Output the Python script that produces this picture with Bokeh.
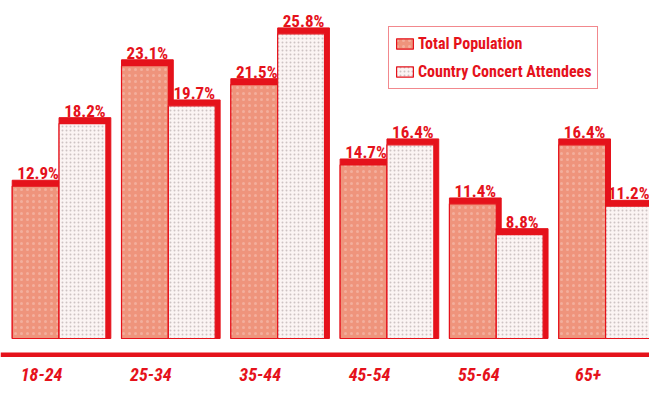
from bokeh.plotting import figure
from bokeh.models import Range1d, Legend, LegendItem, Span, ColumnDataSource
from bokeh.core.properties import value
from bokeh.embed import file_html
from bokeh.resources import INLINE

categories = ["18-24", "25-34", "35-44", "45-54", "55-64", "65+"]
total_population = [12.9, 23.1, 21.5, 14.7, 11.4, 16.4]
concert_attendees = [18.2, 19.7, 25.8, 16.4, 8.8, 11.2]

RED = "#e5121b"
SALMON = "#ef947c"
LIGHT = "#fbf4f3"
FONT = "Roboto Condensed"

W = 0.4286   # bar width (group units)
DX = 0.045   # shadow offset x
DY = 0.5     # shadow offset y (%)
XMAX = 5.4018

idx = list(range(len(categories)))
tot_left = [i - W for i in idx]
tot_right = [i for i in idx]
att_left = [i for i in idx]
att_right = [i + W for i in idx]

src = ColumnDataSource(dict(
    cat=categories, tot=total_population, att=concert_attendees,
    tl=tot_left, tr=tot_right, trs=[r + DX for r in tot_right],
    al=att_left, ar=att_right, ars=[r + DX for r in att_right],
    tots=[v + DY for v in total_population], atts=[v + DY for v in concert_attendees],
    tc=[(l + r) / 2 + DX / 2 for l, r in zip(tot_left, tot_right)],
    ac=[min((l + r) / 2 + DX / 2, XMAX - 0.19) for l, r in zip(att_left, att_right)],
    tlab=[f"{v}%" for v in total_population],
    alab=[f"{v}%" for v in concert_attendees],
    catx=[i - 0.16 for i in idx],
    caty=[-3.09] * len(idx),
))

p = figure(width=649, height=386, output_backend="svg", toolbar_location=None,
           x_range=Range1d(-0.5357, XMAX), y_range=Range1d(-4.065, 28.62),
           x_axis_type=None, y_axis_type=None, min_border=0)
p.outline_line_color = None
p.xgrid.visible = False
p.ygrid.visible = False

p.quad(left="tl", right="trs", bottom=0, top="tots", source=src,
       fill_color=RED, line_color=RED, line_width=1)
r_tot = p.quad(left="tl", right="tr", bottom=0, top="tot", source=src,
               fill_color=SALMON, line_color=RED, line_width=1.2,
               hatch_pattern="dot", hatch_color="white", hatch_alpha=0.25,
               hatch_scale=6, hatch_weight=1.5)
p.quad(left="al", right="ars", bottom=0, top="atts", source=src,
       fill_color=RED, line_color=RED, line_width=1)
r_att = p.quad(left="al", right="ar", bottom=0, top="att", source=src,
               fill_color=LIGHT, line_color=RED, line_width=1.2,
               hatch_pattern="dot", hatch_color="#a89a9a", hatch_alpha=0.55,
               hatch_scale=4, hatch_weight=1)

for xc, yc, lab in (("tc", "tot", "tlab"), ("ac", "att", "alab")):
    p.text(x=xc, y=yc, text=lab, source=src, y_offset=-13,
           text_align="center", text_baseline="alphabetic",
           text_color=RED, text_font=value(FONT), text_font_style="bold",
           text_font_size="17px")

p.add_layout(Span(location=-1.38, dimension="width", line_color=RED, line_width=4.5))

p.text(x="catx", y="caty", text="cat", source=src, text_align="center",
       text_baseline="middle", text_color=RED, text_font=value(FONT),
       text_font_style="bold italic", text_font_size="18px")

legend = Legend(items=[LegendItem(label="Total Population", renderers=[r_tot]),
                       LegendItem(label="Country Concert Attendees", renderers=[r_att])],
                location=(388, 297), orientation="vertical",
                border_line_color=RED, border_line_width=1.5,
                background_fill_color="white", background_fill_alpha=1,
                label_text_color=RED, label_text_font=FONT,
                label_text_font_style="bold", label_text_font_size="16px",
                glyph_width=21, glyph_height=13, label_height=23,
                label_standoff=3, padding=5, spacing=5, margin=0)
p.add_layout(legend, "center")

open("out.html", "w").write(file_html(p, INLINE))
